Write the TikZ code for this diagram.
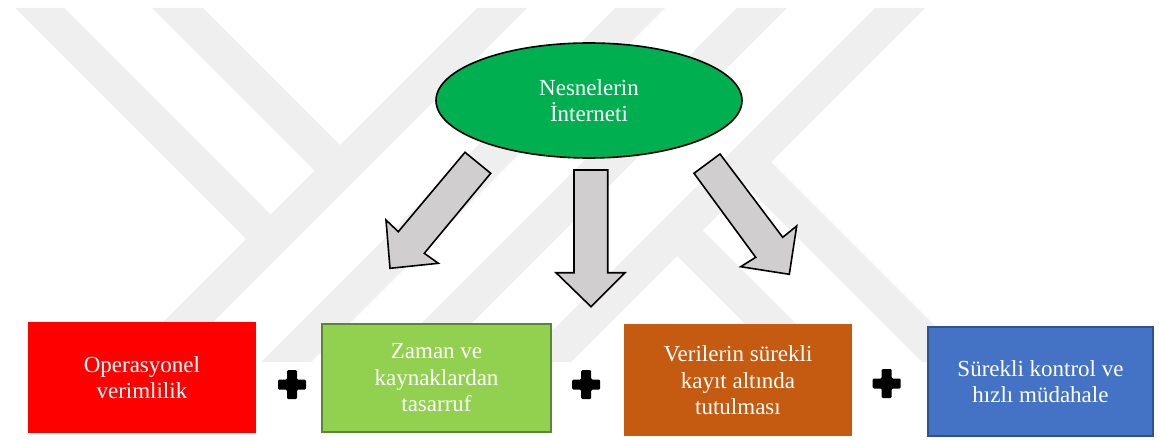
\documentclass[tikz,border=0pt]{standalone}
\usepackage{fontspec}
\setmainfont{Liberation Serif}
\usetikzlibrary{shapes.geometric}

\definecolor{wmark}{RGB}{239,239,239}
\definecolor{iotgreen}{RGB}{0,176,80}
\definecolor{arrowgray}{RGB}{208,206,206}
\definecolor{boxred}{RGB}{255,0,0}
\definecolor{boxlime}{RGB}{146,208,80}
\definecolor{boxlimeedge}{RGB}{88,135,56}
\definecolor{boxorange}{RGB}{197,90,17}
\definecolor{boxblue}{RGB}{68,114,196}
\definecolor{boxblueedge}{RGB}{47,82,143}

\tikzset{
  whitetext/.style={text=white, font=\fontsize{23}{26.5}\selectfont, align=center},
  card/.style={whitetext, rectangle, inner sep=0pt},
  blockarrow/.style={fill=arrowgray, draw=black, line width=1.6pt, line join=miter},
  plusmark/.pic={
    \fill[black, rounded corners=1.2pt]
      (-5,-14.5) -- (5,-14.5) -- (5,-5) -- (14,-5) -- (14,5) -- (5,5)
      -- (5,14.5) -- (-5,14.5) -- (-5,5) -- (-14,5) -- (-14,-5) -- (-5,-5) -- cycle;
  }
}

\begin{document}
\begin{tikzpicture}[x=1pt, y=-1pt]
  \useasboundingbox (0,0) rectangle (1159,441);

  % faint background emblem: diagonal bands
  \fill[wmark] (15,8) -- (64,8) -- (270.5,214.5) -- (246,239) -- cycle;
  \fill[wmark] (152,8) -- (203,8) -- (340,145) -- (314.5,170.5) -- cycle;
  \fill[wmark] (477,8) -- (527,8) -- (173,362) -- (123,362) -- cycle;
  \fill[wmark] (615,8) -- (665,8) -- (311,362) -- (261,362) -- cycle;
  \fill[wmark] (737,8) -- (787,8) -- (433,362) -- (383,362) -- cycle;
  \fill[wmark] (875,8) -- (925,8) -- (571,362) -- (521,362) -- cycle;
  \fill[wmark] (771,162) -- (971,362) -- (922,362) -- (746.5,186.5) -- cycle;
  \fill[wmark] (702.5,230.5) -- (834,362) -- (783,362) -- (677,256) -- cycle;

  % central concept
  \node[ellipse, fill=iotgreen, draw=black, line width=1.6pt,
        minimum width=306pt, minimum height=115pt, inner sep=0pt, whitetext]
        (iot) at (589,100.5) {Nesnelerin\\İnterneti};

  % block arrows
  \draw[blockarrow] (465,152.3) -- (490.7,173.3) -- (424.3,253.3) -- (438.3,263.3)
        -- (390,268.3) -- (386,220) -- (398.3,231.7) -- cycle;
  \draw[blockarrow] (574,170) -- (607.7,170) -- (607.7,272.7) -- (625,272.7)
        -- (591,306.7) -- (556,272.7) -- (574,272.7) -- cycle;
  \draw[blockarrow] (720,154) -- (782.7,237.3) -- (796.7,226) -- (789.3,274.3)
        -- (740.7,266.7) -- (755.7,257.3) -- (694,173.3) -- cycle;

  % outcome boxes
  \node[card, fill=boxred, minimum width=228.3pt, minimum height=111.6pt]
        (b1) at (141.9,377.5) {Operasyonel\\verimlilik};
  \node[card, fill=boxlime, draw=boxlimeedge, line width=2pt,
        minimum width=229pt, minimum height=108.5pt]
        (b2) at (436.5,377.9) {Zaman ve\\kaynaklardan\\tasarruf};
  \node[card, fill=boxorange, minimum width=227.4pt, minimum height=111.7pt]
        (b3) at (738,380.2) {Verilerin sürekli\\kayıt altında\\tutulması};
  \node[card, fill=boxblue, draw=boxblueedge, line width=2pt,
        minimum width=225.6pt, minimum height=109.3pt]
        (b4) at (1040.5,381.7) {Sürekli kontrol ve\\hızlı müdahale};

  % plus signs between the boxes
  \pic (p1) at (292,384.6) {plusmark};
  \pic (p2) at (586.2,384.6) {plusmark};
  \pic (p3) at (886.7,383.5) {plusmark};
\end{tikzpicture}
\end{document}
